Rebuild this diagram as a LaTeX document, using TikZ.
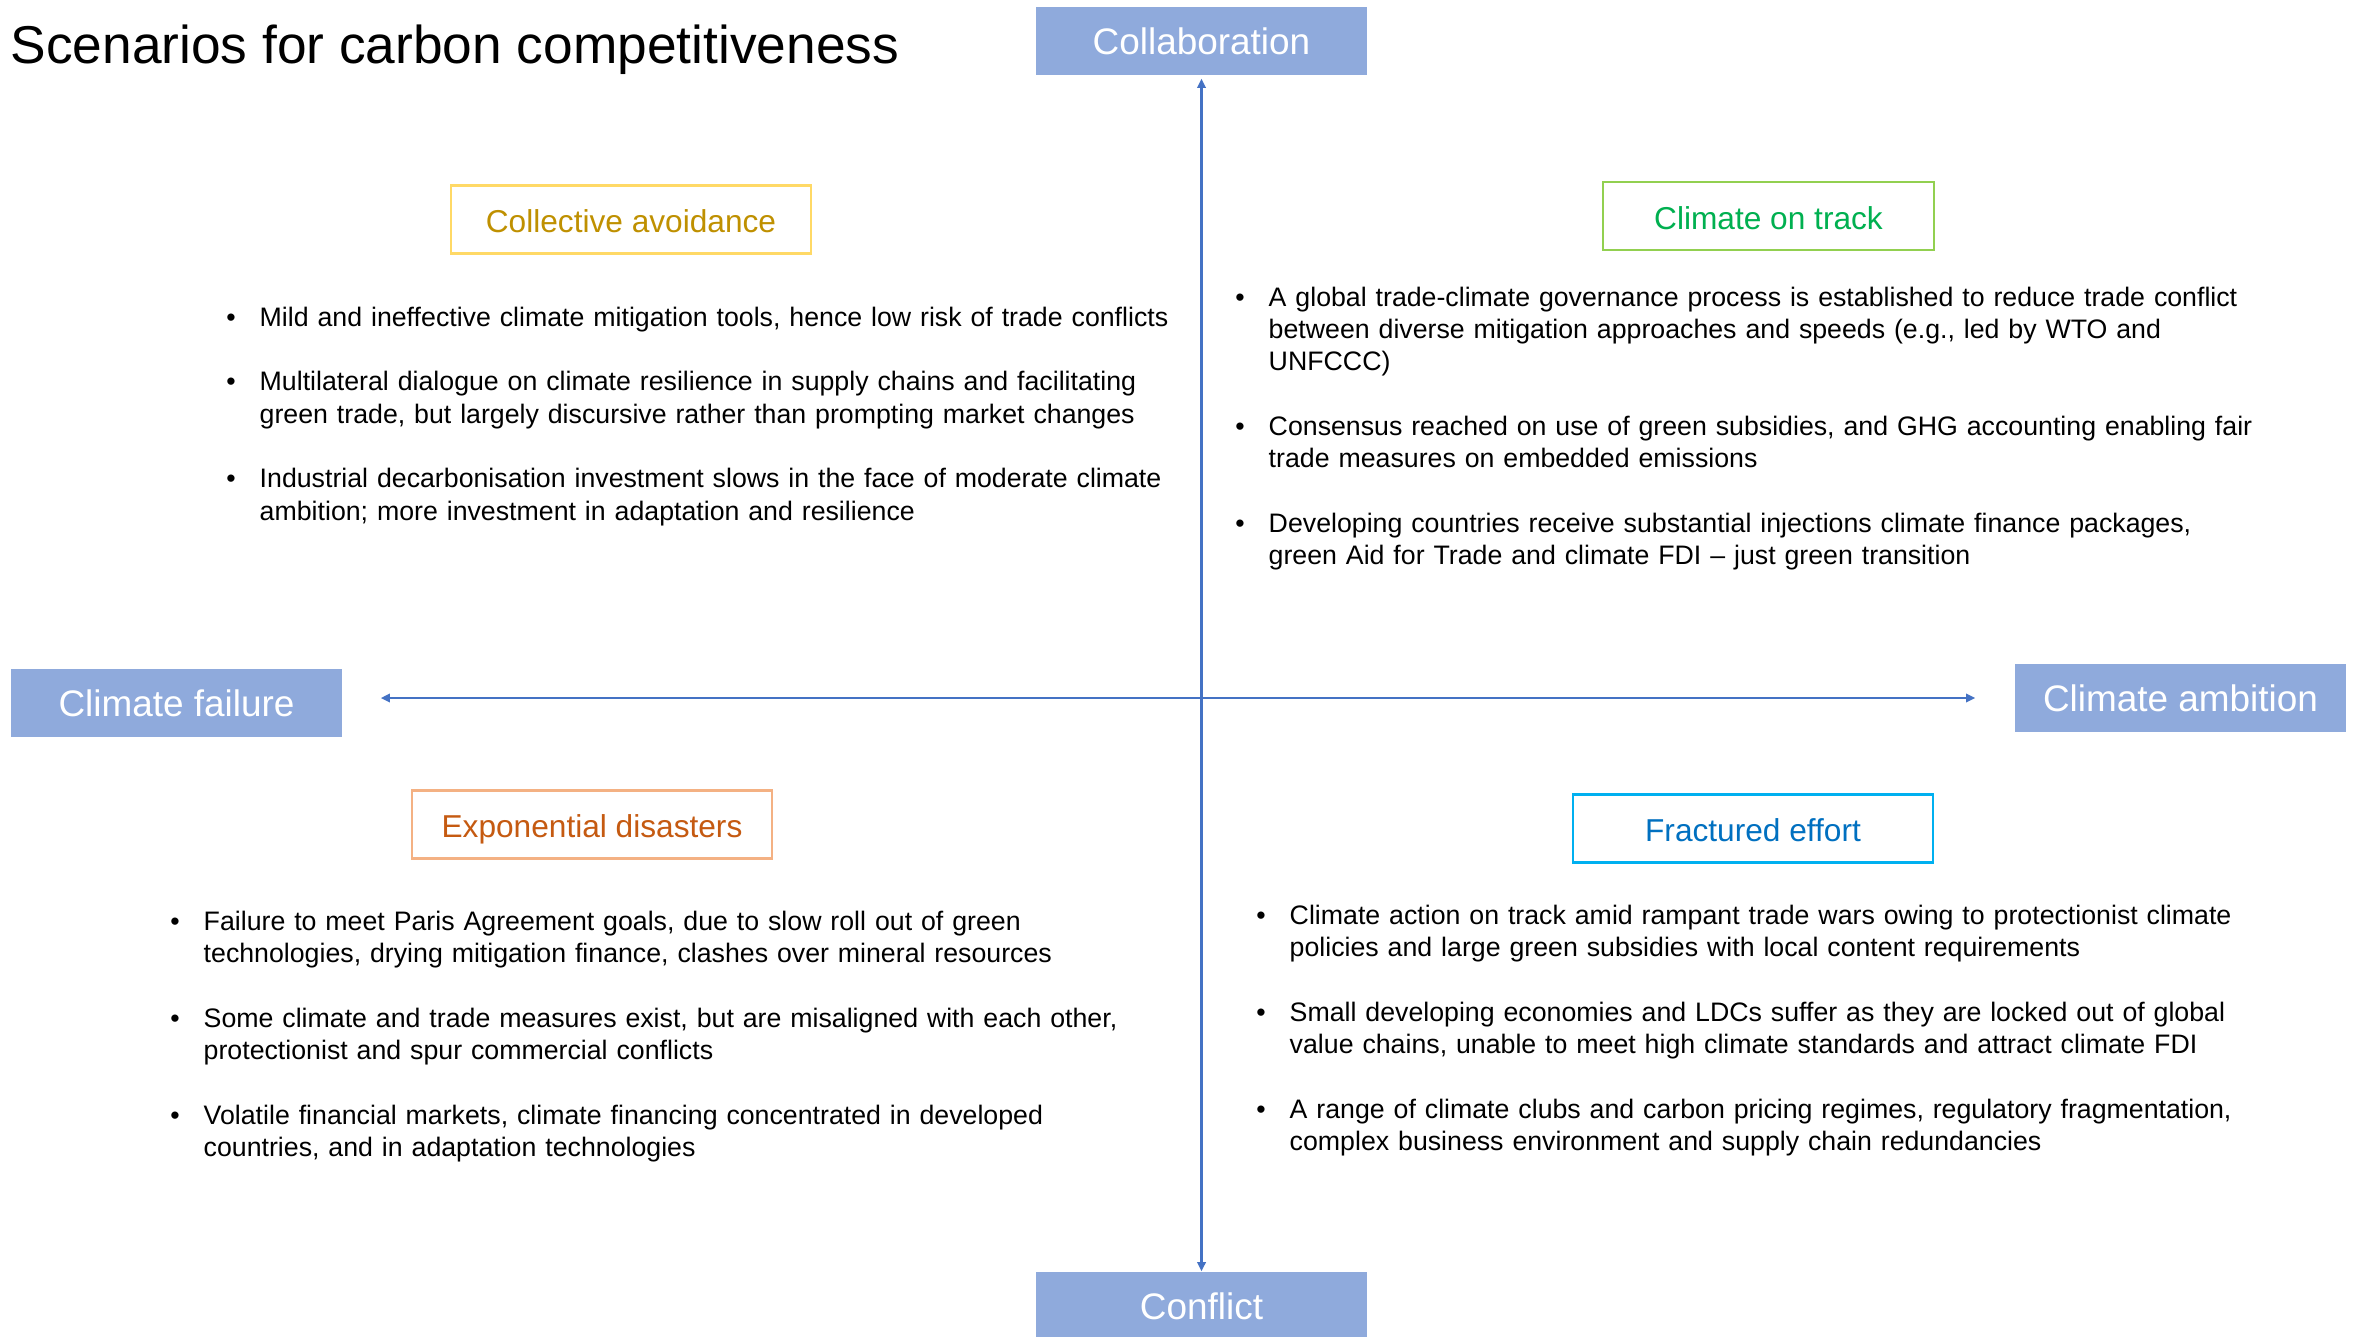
\documentclass[tikz,border=0pt]{standalone}
\usepackage{fontspec}
\setmainfont{Liberation Sans}
\usepackage{xcolor}
\usepackage{enumitem}
\usetikzlibrary{arrows.meta,positioning}

\definecolor{axisfill}{HTML}{8FAADC}
\definecolor{axisline}{HTML}{4472C4}
\definecolor{goldline}{HTML}{FFD966}
\definecolor{goldtext}{HTML}{BF9000}
\definecolor{greenline}{HTML}{92D050}
\definecolor{greentext}{HTML}{00B050}
\definecolor{orangeline}{HTML}{F4B183}
\definecolor{orangetext}{HTML}{C55A11}
\definecolor{blueline}{HTML}{00B0F0}
\definecolor{bluetext}{HTML}{0070C0}

\setlist[itemize]{label=\textbullet, leftmargin=0.29cm, labelsep=0.24cm, topsep=0pt, partopsep=0pt, parsep=0pt, itemsep=9.2pt}

\begin{document}
\begin{tikzpicture}[x=0.01cm, y=-0.01cm,
    axislabel/.style={fill=axisfill, text=white, minimum width=3.31cm, minimum height=0.68cm, inner sep=0pt, font=\fontsize{10.5}{12.6}\selectfont},
    scenario/.style={draw, line width=0.6pt, fill=white, minimum width=3.6cm, minimum height=0.68cm, inner sep=0pt, text height=8.6pt, text depth=1pt, font=\fontsize{9}{10.8}\selectfont},
    bullets/.style={anchor=north west, inner sep=0pt, text width=10.5cm, align=left, font=\fontsize{7.6}{9.2}\selectfont},
    axisarrow/.style={draw=axisline, line width=0.6pt, -{Triangle[length=2.6pt,width=2.4pt]}}]
    \useasboundingbox (0,0) rectangle (2358,1336);
    \clip (0,0) rectangle (2358,1336);

    % Title
    \node[anchor=west, inner sep=0pt, font=\fontsize{15.15}{18}\selectfont] (title) at (10,50) {Scenarios for carbon competitiveness};

    % Axis ends
    \node[axislabel] (collab) at (1201.5,41) {Collaboration};
    \node[axislabel] (conflict) at (1201.5,1306) {Conflict};
    \node[axislabel] (failure) at (176.5,703) {Climate failure};
    \node[axislabel] (ambition) at (2180.5,698) {Climate ambition};

    % Axes
    \coordinate (origin) at (1201.5,698);
    \draw[axisarrow, shorten >=0.03cm] (origin) -- (collab);
    \draw[axisarrow] (origin) -- (conflict);
    \draw[axisarrow, shorten >=0.38cm] (origin) -- (failure.east |- origin);
    \draw[axisarrow, shorten >=0.39cm] (origin) -- (ambition.west |- origin);

    % Scenario headings
    \node[scenario, draw=goldline, text=goldtext] (avoidance) at (631,219.5) {Collective avoidance};
    \node[scenario, draw=greenline, text=greentext, minimum width=3.31cm] (ontrack) at (1768.5,216) {Climate on track};
    \node[scenario, draw=orangeline, text=orangetext] (disasters) at (592,824.5) {Exponential disasters};
    \node[scenario, draw=blueline, text=bluetext] (fractured) at (1753,828.5) {Fractured effort};

    % Top left
    \node[bullets] (avoidancelist) at (230,293) {%
    \begin{itemize}
        \item Mild and ineffective climate mitigation tools, hence low risk of trade conflicts
        \item Multilateral dialogue on climate resilience in supply chains and facilitating\\green trade, but largely discursive rather than prompting market changes
        \item Industrial decarbonisation investment slows in the face of moderate climate\\ambition; more investment in adaptation and resilience
    \end{itemize}};

    % Top right
    \node[bullets] (ontracklist) at (1239,273) {%
    \begin{itemize}
        \item A global trade-climate governance process is established to reduce trade conflict\\between diverse mitigation approaches and speeds (e.g., led by WTO and\\UNFCCC)
        \item Consensus reached on use of green subsidies, and GHG accounting enabling fair\\trade measures on embedded emissions
        \item Developing countries receive substantial injections climate finance packages,\\green Aid for Trade and climate FDI – just green transition
    \end{itemize}};

    % Bottom left
    \node[bullets] (disasterslist) at (174,897) {%
    \begin{itemize}
        \item Failure to meet Paris Agreement goals, due to slow roll out of green\\technologies, drying mitigation finance, clashes over mineral resources
        \item Some climate and trade measures exist, but are misaligned with each other,\\protectionist and spur commercial conflicts
        \item Volatile financial markets, climate financing concentrated in developed\\countries, and in adaptation technologies
    \end{itemize}};

    % Bottom right
    \node[bullets] (fracturedlist) at (1260,891) {%
    \begin{itemize}
        \item Climate action on track amid rampant trade wars owing to protectionist climate\\policies and large green subsidies with local content requirements
        \item Small developing economies and LDCs suffer as they are locked out of global\\value chains, unable to meet high climate standards and attract climate FDI
        \item A range of climate clubs and carbon pricing regimes, regulatory fragmentation,\\complex business environment and supply chain redundancies
    \end{itemize}};
\end{tikzpicture}
\end{document}
